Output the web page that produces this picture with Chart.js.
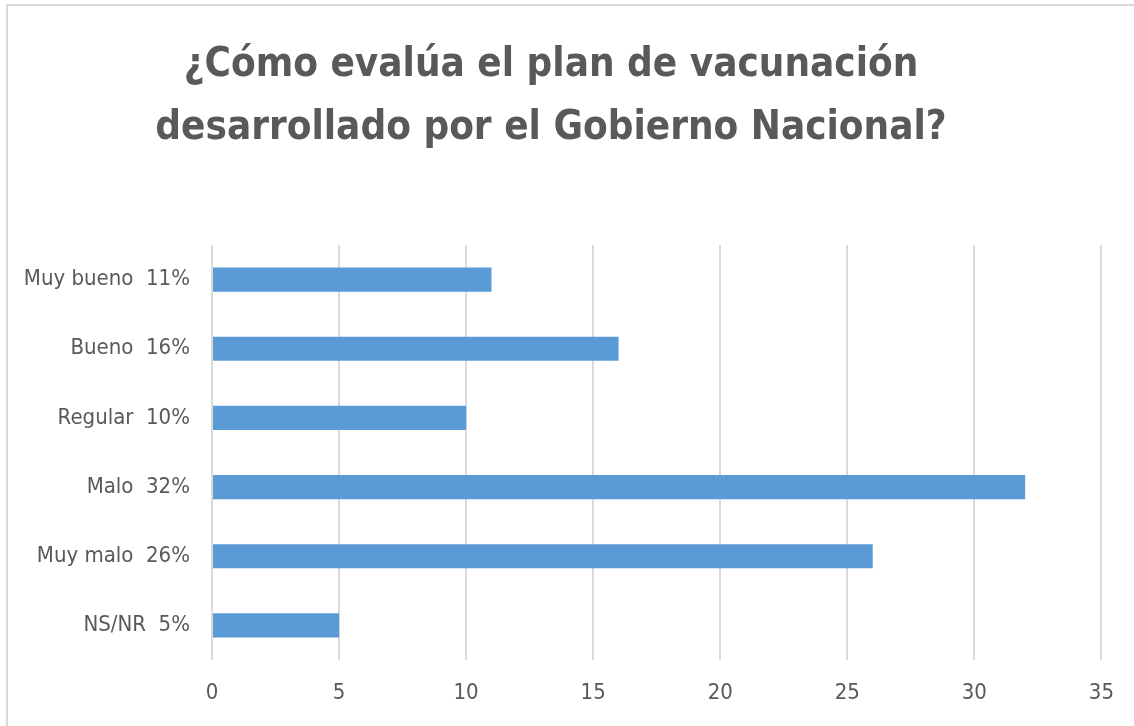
<!DOCTYPE html>
<html lang="es">
<head>
    <meta charset="UTF-8">
    <title>Plan de vacunación</title>
    <script src="https://cdn.jsdelivr.net/npm/chart.js"></script>
    <style>
        html, body { margin: 0; padding: 0; background: #fff; }
        .frame {
            position: absolute; left: 6px; top: 4px;
            width: 1200px; height: 800px;
            border: 2px solid #d9d9d9;
        }
        .wrap { position: absolute; left: 0; top: 0; width: 1134px; height: 726px; }
    </style>
</head>
<body>
    <div class="frame"></div>
    <div class="wrap"><canvas id="chart" width="1134" height="726"></canvas></div>

    <script>
        const titleLines = ['¿Cómo evalúa el plan de vacunación', 'desarrollado por el Gobierno Nacional?'];
        const categories = ['Muy bueno  11%', 'Bueno  16%', 'Regular  10%', 'Malo  32%', 'Muy malo  26%', 'NS/NR  5%'];
        const values = [11, 16, 10, 32, 26, 5];
        const xMin = 0, xMax = 35, xStep = 5;

        const grey = '#595959';
        const condensed = "'Liberation Sans Narrow', 'DejaVu Sans Condensed', 'Liberation Sans', sans-serif";
        const labelFont = { family: condensed, size: 22 };

        const ctx = document.getElementById('chart').getContext('2d');
        new Chart(ctx, {
            type: 'bar',
            data: {
                labels: categories,
                datasets: [{ data: values, backgroundColor: '#5b9bd5', barPercentage: 0.35, categoryPercentage: 1 }]
            },
            options: {
                indexAxis: 'y',
                responsive: false,
                animation: false,
                layout: { padding: { left: 0, right: 32, top: 0, bottom: 0 } },
                plugins: {
                    legend: { display: false },
                    tooltip: { enabled: false },
                    title: {
                        display: true,
                        text: titleLines,
                        color: grey,
                        font: { family: condensed, size: 40, weight: 'bold', lineHeight: 1.575 },
                        padding: { top: 34, bottom: 85 }
                    }
                },
                scales: {
                    x: {
                        min: xMin, max: xMax,
                        ticks: { stepSize: xStep, color: grey, font: labelFont, padding: 20 },
                        grid: { color: '#dadada', lineWidth: 2, drawTicks: false },
                        border: { display: false },
                        afterFit: s => { s.height = 66; }
                    },
                    y: {
                        ticks: { color: grey, font: labelFont, padding: 14 },
                        grid: { display: false },
                        border: { display: false },
                        afterFit: s => { s.width = 212; }
                    }
                }
            }
        });
    </script>
</body>
</html>
